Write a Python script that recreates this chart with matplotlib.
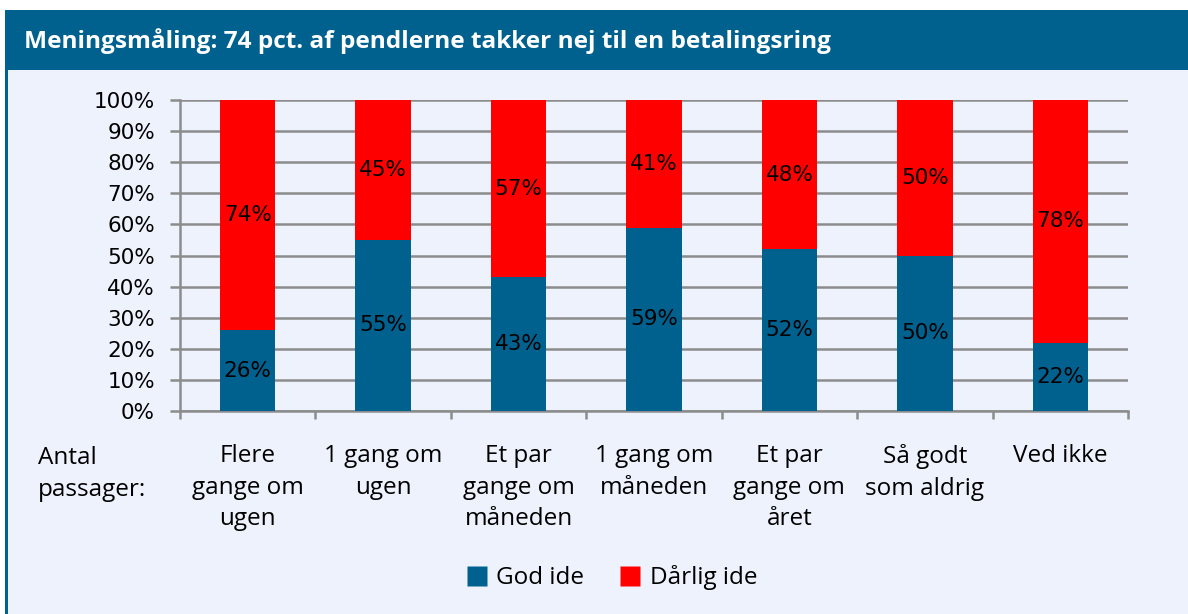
import matplotlib.pyplot as plt
from matplotlib.patches import Rectangle
from matplotlib.lines import Line2D

categories = ["Flere\ngange om\nugen", "1 gang om\nugen", "Et par\ngange om\nmåneden",
              "1 gang om\nmåneden", "Et par\ngange om\nåret", "Så godt\nsom aldrig", "Ved ikke"]
god_ide = [26, 55, 43, 59, 52, 50, 22]
daarlig_ide = [74, 45, 57, 41, 48, 50, 78]
yticks = [0, 10, 20, 30, 40, 50, 60, 70, 80, 90, 100]

blue = "#00618F"
red = "#FF0000"
bg = "#EEF2FD"
grid = "#8C8C8C"

fig = plt.figure(figsize=(11.88, 6.14), dpi=100)
fig.patch.set_facecolor("white")

# background panel, header and left border
fig.patches.append(Rectangle((5 / 1188, 0), 1, 1 - 10 / 614, transform=fig.transFigure,
                             facecolor=bg, edgecolor="none", zorder=-3))
fig.patches.append(Rectangle((5 / 1188, 1 - 70 / 614), 1, 60 / 614, transform=fig.transFigure,
                             facecolor=blue, edgecolor="none", zorder=-2))
fig.patches.append(Rectangle((5 / 1188, 0), 3 / 1188, 1 - 10 / 614, transform=fig.transFigure,
                             facecolor=blue, edgecolor="none", zorder=-2))
fig.text(24 / 1188, 1 - 41 / 614, "Meningsmåling: 74 pct. af pendlerne takker nej til en betalingsring",
         color="white", fontsize=17.6, fontweight="bold", family="Open Sans", va="center", ha="left")

ax = fig.add_axes([180 / 1188, 1 - 411 / 614, 948 / 1188, 311 / 614])
ax.set_facecolor("none")

x = range(len(categories))
width = 0.41
ax.bar(x, god_ide, width, color=blue, zorder=3, label="God ide")
ax.bar(x, daarlig_ide, width, bottom=god_ide, color=red, zorder=3, label="Dårlig ide")

for i in x:
    ax.text(i, god_ide[i] / 2, f"{god_ide[i]}%", ha="center", va="center", fontsize=15.5, zorder=4)
    ax.text(i, god_ide[i] + daarlig_ide[i] / 2, f"{daarlig_ide[i]}%", ha="center", va="center",
            fontsize=15.5, zorder=4)

ax.set_xlim(-0.5, len(categories) - 0.5)
ax.set_ylim(0, 100)
ax.set_yticks(yticks)
ax.set_yticklabels([f"{v}%" for v in yticks], fontsize=15.5)
ax.yaxis.grid(True, color=grid, linewidth=1.8, zorder=0)
ax.tick_params(axis="y", length=7, width=1.8, color=grid, pad=11)

ax.set_xticks(list(x))
ax.set_xticklabels(categories, fontsize=17.5, family="Open Sans", linespacing=1.42)
ax.tick_params(axis="x", which="major", length=0, pad=24)
ax.set_xticks([i - 0.5 for i in range(len(categories) + 1)], minor=True)
ax.tick_params(axis="x", which="minor", length=6, width=1.8, color=grid)

for s in ["top", "right"]:
    ax.spines[s].set_visible(False)
for s in ["left", "bottom"]:
    ax.spines[s].set_color(grid)
    ax.spines[s].set_linewidth(1.8)

fig.text(38 / 1188, 1 - 446 / 614, "Antal\npassager:", fontsize=17.5, family="Open Sans",
         va="top", ha="left", linespacing=1.42)

handles = [Line2D([], [], marker="s", color="none", markerfacecolor=blue, markeredgecolor="none",
                  markersize=15, label="God ide"),
           Line2D([], [], marker="s", color="none", markerfacecolor=red, markeredgecolor="none",
                  markersize=15, label="Dårlig ide")]
fig.legend(handles=handles, loc="center", bbox_to_anchor=(611 / 1188, 1 - 578 / 614), ncol=2,
           frameon=False, prop={"family": "Open Sans", "size": 17.5}, handletextpad=0.3,
           columnspacing=1.4, handlelength=1.0)

fig.savefig("out.png", dpi=100)
